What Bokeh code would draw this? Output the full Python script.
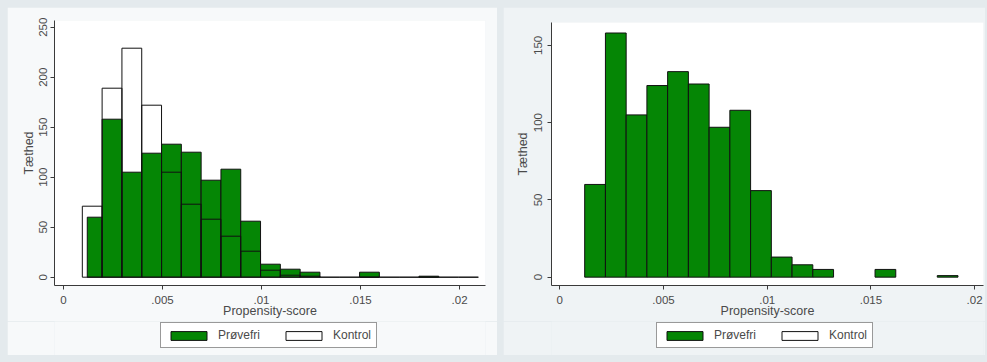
import numpy as np
from bokeh.plotting import figure
from bokeh.models import (ColumnDataSource, Range1d, FixedTicker, Legend,
                          LegendItem, Spacer)
from bokeh.layouts import row, column
from bokeh.embed import file_html
from bokeh.resources import INLINE

# Histogram counts of the propensity score, bins 0.001 wide
bin_width = 0.001
provefri_start = 0.0012
provefri_counts = [60, 158, 105, 124, 133, 125, 97, 108, 56, 13, 8, 5, 0, 0, 5, 0, 0, 1]
kontrol_start = 0.00095
kontrol_counts = [71, 189, 229, 172, 105, 73, 58, 41, 26, 7, 2, 1,
                  0, 0, 0, 0, 0, 0, 0, 0]

x_ticks = [0, 0.005, 0.01, 0.015, 0.02]
x_tick_labels = ["0", ".005", ".01", ".015", ".02"]
y_ticks_left = [0, 50, 100, 150, 200, 250]
y_ticks_right = [0, 50, 100, 150]

x_title = "Propensity-score"
y_title = "Tæthed"
legend_labels = ["Prøvefri", "Kontrol"]

GREEN = "#058605"
FONT = "Liberation Sans"
TEXT = "#4a4a4a"
AXIS = "#3a3a3a"
GREEN_STYLE = dict(fill_color=GREEN, line_color="#111111", line_width=1)
KONTROL_STYLE = dict(fill_color=None, line_color="#111111", line_width=1)


def bin_table(start, counts, clip_left=None, drop_empty=False):
    counts = np.asarray(counts, dtype=float)
    left = start + bin_width * np.arange(len(counts))
    right = left + bin_width
    if clip_left is not None:
        left = np.maximum(left, clip_left)
    if drop_empty:
        keep = counts > 0
        left, right, counts = left[keep], right[keep], counts[keep]
    return ColumnDataSource(dict(left=left, right=right, top=counts))


def histogram_panel(width, x_range, y_range, y_ticks, border_left,
                    border_right, border_top, fill, green_src, kontrol_src,
                    y_label_gap, y_title_gap):
    p = figure(width=width, height=314, x_range=Range1d(*x_range),
               y_range=Range1d(*y_range), output_backend="svg",
               toolbar_location=None, min_border_left=border_left,
               min_border_right=border_right, min_border_top=border_top,
               min_border_bottom=36)
    p.background_fill_color = "white"
    p.border_fill_color = fill
    p.outline_line_color = None
    p.grid.visible = False

    p.quad(left="left", right="right", bottom=0, top="top",
           source=green_src, **GREEN_STYLE)
    p.quad(left="left", right="right", bottom=0, top="top",
           source=kontrol_src, **KONTROL_STYLE)

    p.xaxis.ticker = FixedTicker(ticks=x_ticks)
    p.xaxis.major_label_overrides = dict(zip(x_ticks, x_tick_labels))
    p.yaxis.ticker = FixedTicker(ticks=y_ticks)
    p.yaxis.major_label_orientation = "vertical"
    p.xaxis.axis_label = x_title
    p.yaxis.axis_label = y_title
    for ax in (p.xaxis, p.yaxis):
        ax.axis_line_color = AXIS
        ax.major_tick_line_color = AXIS
        ax.major_tick_out = 4
        ax.major_tick_in = 0
        ax.minor_tick_line_color = None
        ax.major_label_text_font = FONT
        ax.major_label_text_font_size = "11.5px"
        ax.major_label_text_color = TEXT
        ax.axis_label_text_font = FONT
        ax.axis_label_text_font_size = "12.5px"
        ax.axis_label_text_font_style = "normal"
        ax.axis_label_text_color = TEXT
    p.xaxis.major_label_standoff = 6
    p.xaxis.axis_label_standoff = -3
    p.yaxis.major_label_standoff = y_label_gap
    p.yaxis.axis_label_standoff = y_title_gap
    return p


def legend_strip(width, fill, box_x):
    # a strip under the histogram that holds the horizontal legend box;
    # its swatch renderers sit outside the visible range
    p = figure(width=width, height=34, x_range=Range1d(0, 1),
               y_range=Range1d(0, 1), x_axis_type=None, y_axis_type=None,
               output_backend="svg", toolbar_location=None, min_border=0)
    p.background_fill_color = fill
    p.border_fill_color = fill
    p.outline_line_color = None
    p.grid.visible = False
    offscreen = dict(left=[5], right=[6], top=[5])
    g = p.quad(left="left", right="right", bottom=4, top="top",
               source=ColumnDataSource(offscreen), **GREEN_STYLE)
    k = p.quad(left="left", right="right", bottom=4, top="top",
               source=ColumnDataSource(offscreen), **KONTROL_STYLE)
    legend = Legend(
        items=[LegendItem(label=legend_labels[0], renderers=[g]),
               LegendItem(label=legend_labels[1], renderers=[k])],
        orientation="horizontal", location=(box_x, 7),
        glyph_width=45, glyph_height=11, label_height=13,
        label_text_font=FONT, label_text_font_size="12px",
        label_text_color=TEXT, label_standoff=7, spacing=21, padding=5,
        margin=0, border_line_color="#333333", border_line_width=1,
        background_fill_color="white")
    p.add_layout(legend)
    return p


LEFT_FILL = "#F7F9FA"
RIGHT_FILL = "#EFF3F5"

# Left: both groups, on the control group's bin grid
left_green = bin_table(kontrol_start, provefri_counts, clip_left=provefri_start,
                       drop_empty=True)
left_kontrol = bin_table(kontrol_start, kontrol_counts)
p_left = histogram_panel(490, (-0.000455, 0.02131), (-8.3, 256.7),
                         y_ticks_left, 47, 12, 13, LEFT_FILL,
                         left_green, left_kontrol, 3, 1)
leg_left = legend_strip(490, LEFT_FILL, 106)

# Right: the treated group alone
right_green = bin_table(provefri_start, provefri_counts, drop_empty=True)
right_kontrol = ColumnDataSource(dict(left=[], right=[], top=[]))
p_right = histogram_panel(482, (-0.0004, 0.02043), (-5.4, 164.8),
                          y_ticks_right, 48, 2, 15, RIGHT_FILL,
                          right_green, right_kontrol, 5, 2)
leg_right = legend_strip(482, RIGHT_FILL, 105)

layout = column(
    Spacer(width=987, height=7),
    row(Spacer(width=7, height=348),
        column(p_left, leg_left, spacing=0),
        Spacer(width=6, height=348),
        column(p_right, leg_right, spacing=0),
        Spacer(width=2, height=348), spacing=0),
    Spacer(width=987, height=7),
    spacing=0,
    styles={"background-color": "#E4EAED"},
)

open("out.html", "w").write(file_html(layout, INLINE))
